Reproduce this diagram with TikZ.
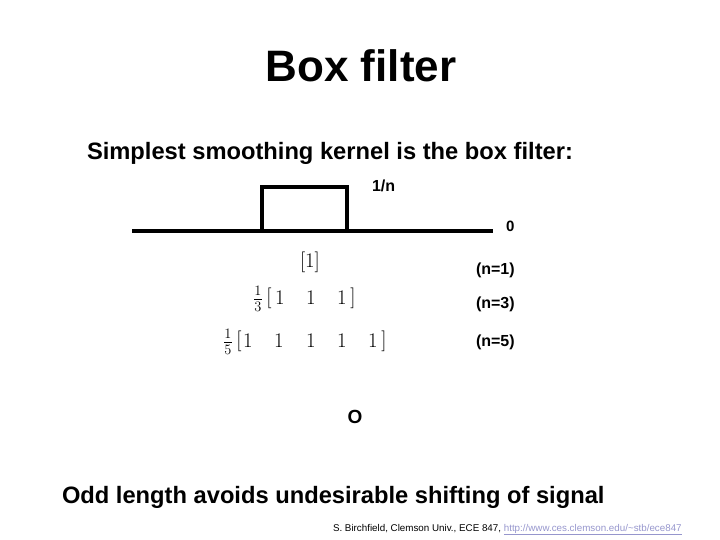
\documentclass[tikz,border=0pt]{standalone}
\usepackage{fontspec}
\setmainfont{Liberation Sans}
\definecolor{linkcol}{RGB}{150,150,205}
\begin{document}
\begin{tikzpicture}[x=1pt,y=-1pt,
  every node/.style={inner sep=0pt,outer sep=0pt},
  title/.style={font=\fontsize{44}{50}\selectfont\bfseries,anchor=base},
  big/.style={font=\fontsize{23.7}{28}\selectfont\bfseries,anchor=base west},
  lab/.style={font=\fontsize{16}{19}\selectfont\bfseries,anchor=base west},
  mat/.style={font=\fontsize{22}{26}\selectfont,anchor=center},
  cite/.style={font=\fontsize{9.8}{12}\selectfont,anchor=base west},
  thick line/.style={line width=3.6pt},
]
\path[use as bounding box] (0,0) rectangle (720,540);
\node[title] (t) at (361,82) {Box filter};
\node[big] (s) at (87,160) {Simplest smoothing kernel is the box filter:};
% box signal
\coordinate (b0) at (132,231);
\coordinate (b1) at (262,231);
\coordinate (b2) at (262,187);
\coordinate (b3) at (347,187);
\coordinate (b4) at (347,231);
\coordinate (b5) at (493,231);
\draw[line width=4pt] (b0) -- (b5);
\draw[thick line,line join=miter] (b1) -- (b2) -- (b3) -- (b4);
\node[lab] (one) at (372,192) {1/n};
\node[lab,font=\fontsize{15}{18}\selectfont\bfseries] (zero) at (506,231) {0};
% kernels
\node[mat] (k1) at (310,262) {$[1]$};
\node[mat] (f3) at (258,299) {$\frac{1}{3}$};
\node[mat] (l3) at (269,298) {$[$};
\node[mat] (a31) at (280,298) {$1$};
\node[mat] (a32) at (311,298) {$1$};
\node[mat] (a33) at (342,298) {$1$};
\node[mat] (r3) at (353,298) {$]$};
\node[mat] (f5) at (228,342) {$\frac{1}{5}$};
\node[mat] (l5) at (239,341) {$[$};
\node[mat] (a51) at (248,341) {$1$};
\node[mat] (a52) at (279,341) {$1$};
\node[mat] (a53) at (311,341) {$1$};
\node[mat] (a54) at (342,341) {$1$};
\node[mat] (a55) at (373,341) {$1$};
\node[mat] (r5) at (384,341) {$]$};
\node[lab] (n1) at (476,274) {(n=1)};
\node[lab] (n3) at (476,308) {(n=3)};
\node[lab] (n5) at (476,346) {(n=5)};
\node[font=\fontsize{19}{22}\selectfont\bfseries,anchor=base] (o) at (355,423) {O};
\node[big] (b) at (62,503) {Odd length avoids undesirable shifting of signal};
\node[cite] (c) at (333,531) {S. Birchfield, Clemson Univ., ECE 847, \textcolor{linkcol}{\underline{http://www.ces.clemson.edu/\textasciitilde stb/ece847}}};
\end{tikzpicture}
\end{document}
